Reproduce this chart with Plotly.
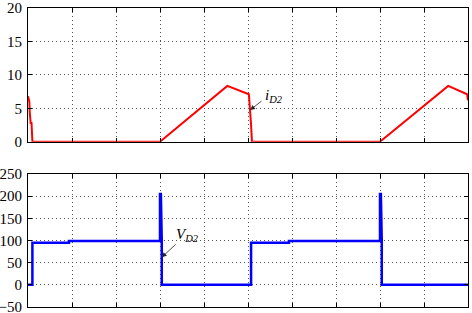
import plotly.graph_objects as go
from plotly.subplots import make_subplots

# current i_D2 (A)
t_i = [0, 0.03, 0.04, 0.06, 0.08, 0.1, 3.0, 4.53, 5.02, 5.05, 5.07, 5.09, 8.0, 9.55, 9.98, 10.0]
i_d2 = [6.8, 6.0, 4.4, 2.8, 2.8, 0, 0, 8.35, 7.1, 4.75, 2.5, 0, 0, 8.35, 7.1, 6.2]

# voltage V_D2 (V)
t_v = [0, 0.1, 0.1, 0.93, 0.93, 3.0, 3.0, 3.02, 3.04, 3.04, 5.07, 5.07, 5.93, 5.93,
       8.0, 8.0, 8.02, 8.04, 8.04, 10.0]
v_d2 = [0, 0, 95, 95, 99, 99, 205, 205, 100, 0, 0, 95, 95, 99, 99, 205, 205, 100, 0, 0]

top_ticks = [0, 5, 10, 15, 20]
bot_ticks = [-50, 0, 50, 100, 150, 200, 250]

fig = make_subplots(rows=2, cols=1, shared_xaxes=False)
fig.add_trace(go.Scatter(x=t_i, y=i_d2, mode="lines",
                         line=dict(color="#ff0000", width=2), showlegend=False), row=1, col=1)
fig.add_trace(go.Scatter(x=t_v, y=v_d2, mode="lines",
                         line=dict(color="#0000ff", width=2.5), showlegend=False), row=2, col=1)

serif = "Liberation Serif"
font = dict(family=serif, size=15, color="black")
axcommon = dict(showline=True, linecolor="black", linewidth=1, mirror="ticks",
                ticks="inside", ticklen=4, tickcolor="black",
                showgrid=True, gridcolor="#555", griddash="1px,3px", gridwidth=1,
                zeroline=False, tickfont=font, automargin=False)

fig.update_xaxes(range=[0, 10], dtick=1, showticklabels=False, **axcommon)
fig.update_yaxes(ticklabelstandoff=2, ticklabeloverflow="allow", **axcommon)
fig.update_yaxes(range=[0, 20], tickvals=top_ticks, domain=[0.5528, 1.0], row=1, col=1)
fig.update_yaxes(range=[-50, 250], tickvals=bot_ticks, domain=[0.0, 0.4448], row=2, col=1)

# annotations
fig.add_annotation(x=5.05, y=4.75, ax=5.34, ay=6.25, xref="x", yref="y", axref="x", ayref="y",
                   text="", showarrow=True, arrowhead=2, arrowsize=1.2, arrowwidth=0.8,
                   arrowcolor="#222")
fig.add_annotation(x=5.6, y=6.9, xref="x", yref="y", showarrow=False,
                   text="<i>i</i><sub><i>D2</i></sub>",
                   font=dict(family=serif, size=15, color="black"))
fig.add_annotation(x=3.04, y=62, ax=3.39, ay=94.5, xref="x2", yref="y2", axref="x2", ayref="y2",
                   text="", showarrow=True, arrowhead=2, arrowsize=1.2, arrowwidth=0.8,
                   arrowcolor="#222")
fig.add_annotation(x=3.62, y=112, xref="x2", yref="y2", showarrow=False,
                   text="<i>V</i><sub><i>D2</i></sub>",
                   font=dict(family=serif, size=15, color="black"))

fig.update_layout(width=472, height=313, margin=dict(l=28, r=4, t=8, b=6),
                  paper_bgcolor="white", plot_bgcolor="white", font=font)
fig.write_html("out.html", config={"displayModeBar": False},
               post_script="document.body.style.margin='0';document.body.style.padding='0';")
